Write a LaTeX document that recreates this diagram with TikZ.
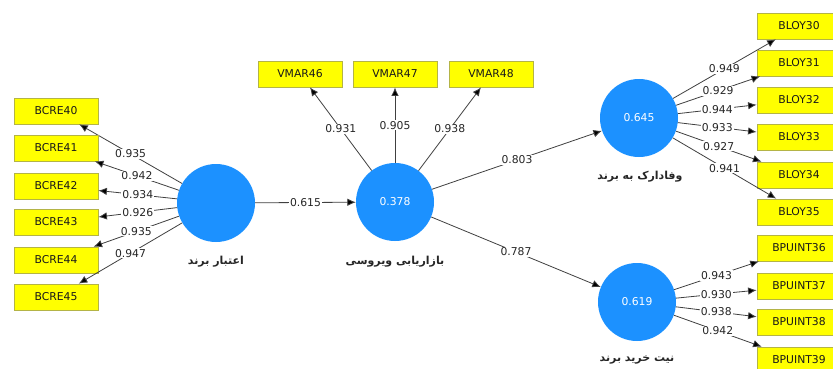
\documentclass[tikz,border=0pt]{standalone}
\usepackage{fontspec}
\setmainfont{DejaVu Sans}
\newfontfamily\farsi[Script=Arabic]{DejaVu Sans}
\TeXXeTstate=1
\usetikzlibrary{arrows.meta}
\definecolor{lvblue}{RGB}{28,145,255}
\definecolor{mvyellow}{RGB}{255,255,0}
\definecolor{mvborder}{RGB}{180,180,70}
\tikzset{
 latent/.style={circle,fill=lvblue,minimum size=78pt,inner sep=0pt,text=white},
 indic/.style={rectangle,fill=mvyellow,draw=mvborder,line width=0.8pt,minimum width=84pt,minimum height=26pt,inner sep=0pt,text=black!90},
 load/.style={fill=white,inner sep=1pt,text=black!85},
 link/.style={draw=black!75,line width=0.8pt,->},
 lvname/.style={font=\farsi\bfseries\fontsize{11}{12}\selectfont,text=black!85}
}
\begin{document}
\begin{tikzpicture}[x=1pt,y=-1pt,>={Latex[length=8.5pt,width=7.5pt,fill=black]},font=\fontsize{10.8}{12}\selectfont]
 \def\bx{799} % right hand indicators
 \clip (0,0) rectangle (833,369);
 \fill[white] (0,0) rectangle (833,369);
 % latent variables
 \node[latent] (cre) at (216,203) {};
 \node[latent] (vm) at (395,202) {0.378};
 \node[latent] (loy) at (639,118) {0.645};
 \node[latent] (pui) at (637,302) {0.619};
 \node[lvname] (crename) at (216,262) {\beginR اعتبار برند\endR};
 \node[lvname] (vmname) at (395,262) {\beginR بازاریابی ویروسی\endR};
 \node[lvname] (loyname) at (640,177) {\beginR وفادارک به برند\endR};
 \node[lvname] (puiname) at (637,360) {\beginR نیت خرید برند\endR};
 % indicators
 \foreach \n/\y/\v in {40/111/0.935,41/148/0.942,42/186/0.934,43/222/0.926,44/260/0.935,45/297/0.947}{
  \node[indic] (bcre\n) at (56,\y) {BCRE\n};
  \draw[link] (cre) -- (bcre\n) node[load,midway] {\v};
 }
 \foreach \n/\x/\v in {46/300/0.931,47/395/0.905,48/491/0.938}{
  \node[indic] (vmar\n) at (\x,74) {VMAR\n};
  \draw[link] (vm) -- (vmar\n) node[load,midway] {\v};
 }
 \foreach \n/\y/\v in {30/26/0.949,31/63/0.929,32/100/0.944,33/137/0.933,34/175/0.927,35/212/0.941}{
  \node[indic] (bloy\n) at (\bx,\y) {BLOY\n};
  \draw[link] (loy) -- (bloy\n) node[load,midway] {\v};
 }
 \foreach \n/\y/\v in {36/248/0.943,37/286/0.930,38/322/0.938,39/360/0.942}{
  \node[indic] (bpuint\n) at (\bx,\y) {BPUINT\n};
  \draw[link] (pui) -- (bpuint\n) node[load,midway] {\v};
 }
 % inner model
 \draw[link] (cre) -- (vm) node[load,midway] {0.615};
 \draw[link] (vm) -- (loy) node[load,midway] {0.803};
 \draw[link] (vm) -- (pui) node[load,midway] {0.787};
\end{tikzpicture}
\end{document}
